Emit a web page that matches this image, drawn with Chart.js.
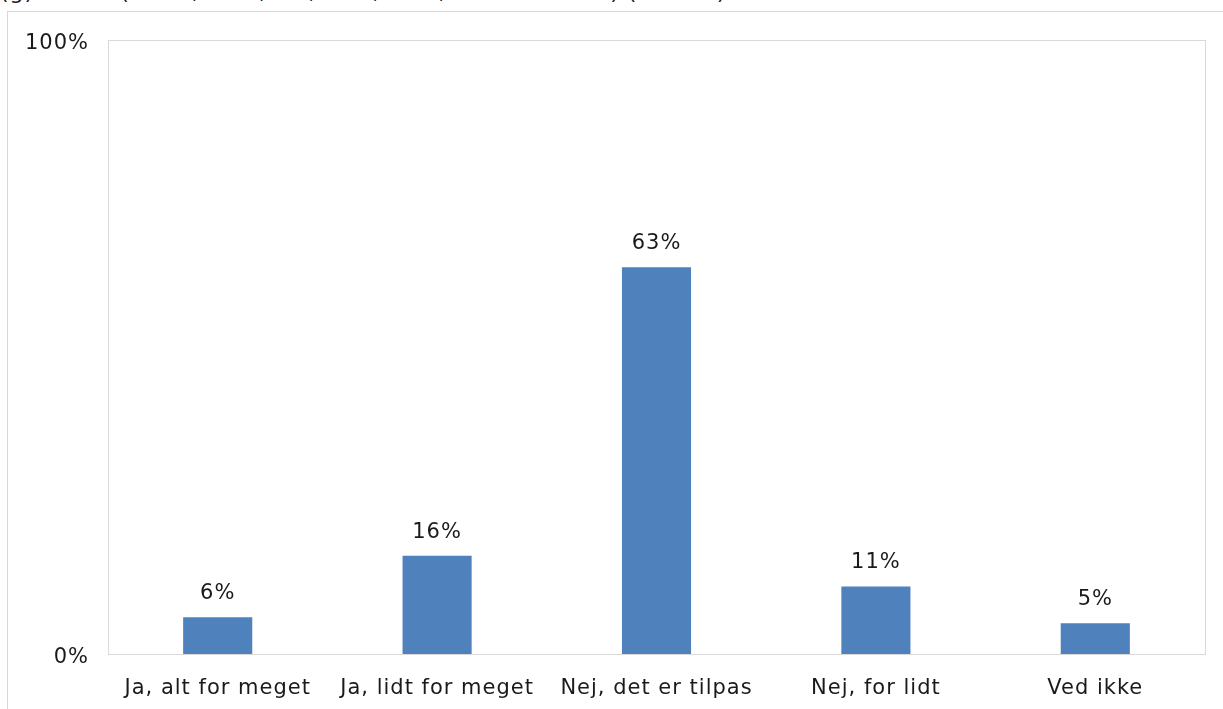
<!DOCTYPE html>
<html>
<head>
<meta charset="utf-8">
<script src="https://cdn.jsdelivr.net/npm/chart.js@4/dist/chart.umd.min.js"></script>
<style>
  html, body { margin: 0; padding: 0; background: #fff; overflow: hidden; }
  #wrap { position: relative; width: 1223px; height: 709px; }
  #titel { position: absolute; left: 0; top: -21px; font: 22px "DejaVu Sans", sans-serif; letter-spacing: 1px; color: #1a1a1a; white-space: nowrap; }
  #ramme { position: absolute; left: 7px; top: 11px; width: 1240px; height: 720px; border: 1px solid #d9d9d9; box-sizing: border-box; }
  canvas { position: absolute; left: 0; top: 0; }
</style>
</head>
<body>
<div id="wrap">
  <div id="titel">(g) Andet (fx HF, HHX, HX, HTX, EUD, teknisk skole) (n=214)</div>
  <div id="ramme"></div>
  <canvas id="graf" width="1223" height="709"></canvas>
</div>
<script>
// kategorier og andele i procent
const kategorier = ['Ja, alt for meget', 'Ja, lidt for meget', 'Nej, det er tilpas', 'Nej, for lidt', 'Ved ikke']
const andele = [6, 16, 63, 11, 5]
const yTicks = [0, 100]

const skrift = '"DejaVu Sans", sans-serif'

// lidt bredere skrift, som i originalen
const spatiering = {
    id: 'spatiering',
    beforeDraw(chart) { chart.ctx.letterSpacing = '1px' }
}

// tegner procent over hver søjle + ramme om plotomraadet
const etiketter = {
    id: 'etiketter',
    afterDatasetsDraw(chart) {
        const ctx = chart.ctx
        const a = chart.chartArea
        ctx.save()
        ctx.strokeStyle = '#d9d9d9'
        ctx.lineWidth = 1
        ctx.strokeRect(Math.round(a.left) + 0.5, Math.round(a.top) + 0.5, Math.round(a.right - a.left), Math.round(a.bottom - a.top))
        ctx.fillStyle = '#1a1a1a'
        ctx.font = '21px ' + skrift
        ctx.letterSpacing = '1px'
        ctx.textAlign = 'center'
        ctx.textBaseline = 'bottom'
        chart.getDatasetMeta(0).data.forEach((bar, i) => {
            ctx.fillText(andele[i] + '%', bar.x, bar.y - 13)
        })
        ctx.restore()
    }
}

let ctx = document.getElementById('graf')
let graf = new Chart(ctx, {
    type: 'bar',
    data: {
        labels: kategorier,
        datasets: [{
            data: andele,
            backgroundColor: '#4f81bd',
            barPercentage: 0.63,
            categoryPercentage: 0.5
        }]
    },
    options: {
        responsive: false,
        animation: false,
        events: [],
        layout: { padding: { top: 40, right: 18, left: 0, bottom: 0 } },
        plugins: { legend: { display: false }, tooltip: { enabled: false } },
        scales: {
            x: {
                grid: { display: false },
                border: { display: false },
                ticks: { color: '#1a1a1a', font: { size: 21, family: skrift }, padding: 14, maxRotation: 0 },
                afterFit: s => { s.height = 55 }
            },
            y: {
                min: 0,
                max: 100,
                afterBuildTicks: s => { s.ticks = yTicks.map(v => ({ value: v })) },
                grid: { display: false },
                border: { display: false },
                ticks: { color: '#1a1a1a', font: { size: 21, family: skrift }, padding: 11, labelOffset: 4, callback: v => v + '%' },
                afterFit: s => { s.width = 108 }
            }
        }
    },
    plugins: [spatiering, etiketter]
})
</script>
</body>
</html>
